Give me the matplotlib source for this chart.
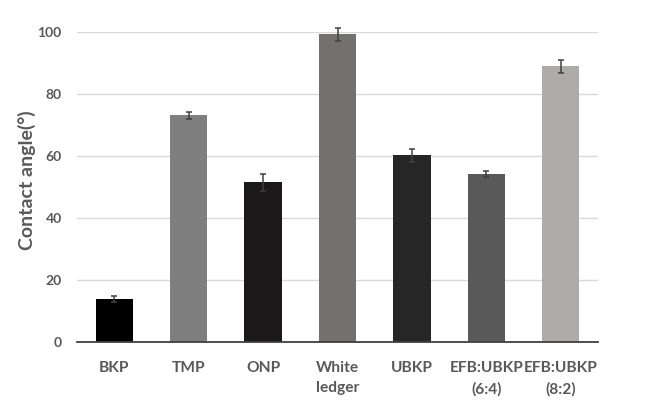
import matplotlib
matplotlib.use("Agg")
import matplotlib.pyplot as plt
import numpy as np

categories = ["BKP", "TMP", "ONP", "White\nledger", "UBKP", "EFB:UBKP\n(6:4)", "EFB:UBKP\n(8:2)"]
values = [13.9, 73.2, 51.6, 99.4, 60.3, 54.2, 89.0]
errors = [0.9, 1.1, 2.7, 2.1, 2.1, 0.9, 2.1]
colors = ["#000000", "#7f7f7f", "#1a1818", "#757070", "#262626", "#595959", "#afabab"]
yticks = [0, 20, 40, 60, 80, 100]

plt.rcParams['font.family'] = ['Lato', 'DejaVu Sans']
txt = "#595959"

fig = plt.figure(figsize=(6.52, 4.09), dpi=100)
ax = fig.add_axes([77/652, 1-342/409, (598-77)/652, (342-32.3)/409])

x = np.arange(len(categories))
ax.bar(x, values, width=0.5, color=colors, zorder=3)
ax.errorbar(x, values, yerr=errors, fmt='none', ecolor="#404040", elinewidth=1.1,
            capsize=2.5, capthick=1.1, zorder=4, clip_on=False)

ax.set_xlim(-0.5, len(categories)-0.5)
ax.set_ylim(0, 100)
ax.set_yticks(yticks)
ax.set_xticks(x)
ax.set_xticklabels(categories, fontsize=11.2, fontweight='bold', color=txt, linespacing=1.55)
ax.tick_params(axis='x', length=0, pad=14)
ax.tick_params(axis='y', length=0, pad=11, labelsize=10, labelcolor=txt)
for lab in ax.get_yticklabels():
    lab.set_fontweight('bold')
ax.grid(axis='y', color="#d9d9d9", linewidth=1.0, zorder=0)
for s in ['top', 'right', 'left']:
    ax.spines[s].set_visible(False)
ax.spines['bottom'].set_color("#404040")
ax.spines['bottom'].set_linewidth(1.3)
ax.spines['bottom'].set_zorder(5)

fig.text(27/652, 1-180/409, "Contact angle(°)", rotation=90, ha='center', va='center',
         fontsize=14, fontweight='bold', color=txt)

fig.savefig("out.png", dpi=100, facecolor='white')
